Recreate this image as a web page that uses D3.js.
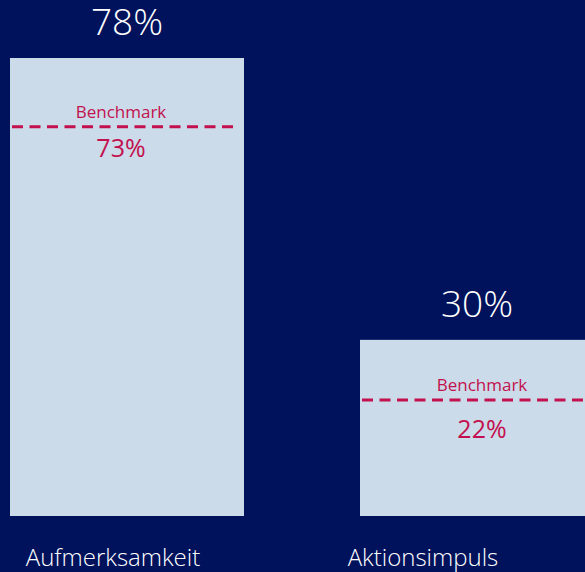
<!DOCTYPE html>
<html>
<head>
<meta charset="utf-8">
<script src="https://cdn.jsdelivr.net/npm/d3@7"></script>
<style>
  html, body { margin: 0; padding: 0; background: #00125b; }
  svg { display: block; font-family: "Open Sans", "Noto Sans", sans-serif; }
</style>
</head>
<body>
<div id="chart"></div>
<script>
'use strict';

const categories = ['Aufmerksamkeit', 'Aktionsimpuls'];
const values = [78, 30];
const benchmarks = [73, 22];
const benchmarkLabel = 'Benchmark';

const width = 585;
const height = 572;

const svg = d3.select('#chart')
    .append('svg')
    .attr('width', width)
    .attr('height', height);

svg.append('rect')
    .attr('width', width)
    .attr('height', height)
    .attr('fill', '#00125b');

// bars sit on a band scale that runs past the right edge (2nd bar is cut off)
const x = d3.scaleBand()
    .domain(categories)
    .range([10, 594])
    .paddingInner(116 / 350)
    .paddingOuter(0);

const y = d3.scaleLinear()
    .domain([0, 78])
    .range([516, 58]);

// benchmarks use their own axis
const yBench = d3.scaleLinear()
    .domain([0, 73])
    .range([518, 126.7]);

// category labels are placed on their own axis
const xLabel = d3.scalePoint()
    .domain(categories)
    .range([113, 423]);

// small manual nudges for the benchmark labels (they don't sit exactly centred)
const nudgeX = [-6, 5];
const valueGap = [30, 38];

const data = categories.map((c, i) => ({ cat: c, value: values[i], bench: benchmarks[i], i: i }));

const g = svg.selectAll('g.bar')
    .data(data)
    .enter()
    .append('g')
    .attr('class', 'bar');

g.append('rect')
    .attr('x', d => x(d.cat))
    .attr('y', d => y(d.value))
    .attr('width', x.bandwidth())
    .attr('height', d => y(0) - y(d.value))
    .attr('fill', '#cbdbe9');

g.append('text')
    .attr('x', d => x(d.cat) + x.bandwidth() / 2)
    .attr('y', d => y(d.value) - 23)
    .attr('text-anchor', 'middle')
    .attr('fill', '#ffffff')
    .style('font-size', '37px')
    .style('font-weight', 300)
    .text(d => d.value + '%');

g.append('line')
    .attr('x1', d => x(d.cat) + 2)
    .attr('x2', d => x(d.cat) + x.bandwidth() - 6)
    .attr('y1', d => yBench(d.bench))
    .attr('y2', d => yBench(d.bench))
    .attr('stroke', '#c3114f')
    .attr('stroke-width', 3)
    .attr('stroke-dasharray', '11 6.5');

g.append('text')
    .attr('x', d => x(d.cat) + x.bandwidth() / 2 + nudgeX[d.i])
    .attr('y', d => yBench(d.bench) - 9)
    .attr('text-anchor', 'middle')
    .attr('fill', '#c3114f')
    .style('font-size', '17px')
    .text(benchmarkLabel);

g.append('text')
    .attr('x', d => x(d.cat) + x.bandwidth() / 2 + nudgeX[d.i])
    .attr('y', d => yBench(d.bench) + valueGap[d.i])
    .attr('text-anchor', 'middle')
    .attr('fill', '#c3114f')
    .style('font-size', '25px')
    .text(d => d.bench + '%');

svg.selectAll('text.cat')
    .data(categories)
    .enter()
    .append('text')
    .attr('class', 'cat')
    .attr('x', d => xLabel(d))
    .attr('y', 566)
    .attr('text-anchor', 'middle')
    .attr('fill', '#ffffff')
    .style('font-size', '24px')
    .style('font-weight', 300)
    .text(d => d);
</script>
</body>
</html>
